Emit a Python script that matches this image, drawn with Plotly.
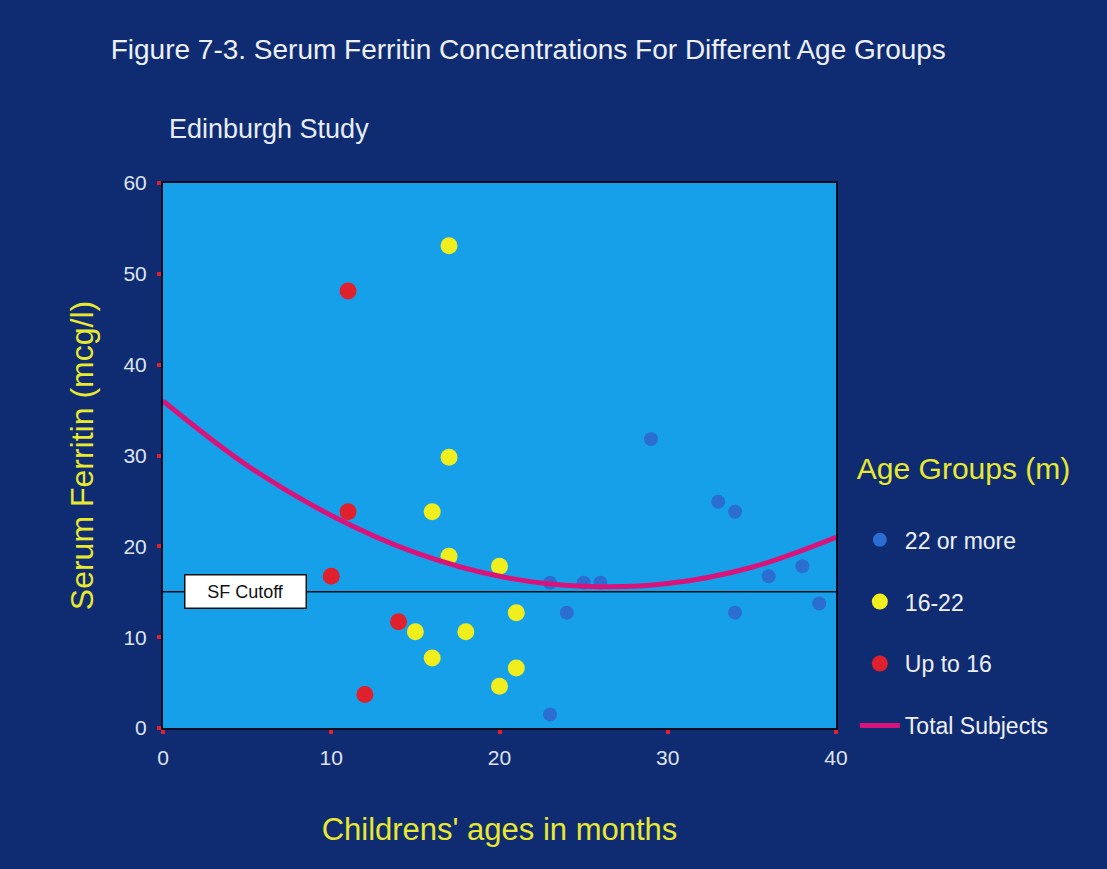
import plotly.graph_objects as go

# ---- data ----
older_x = [23, 23, 24, 25, 26, 29, 33, 34, 34, 36, 38, 39]
older_y = [1.5, 16, 12.7, 16, 16, 31.8, 24.9, 23.8, 12.7, 16.7, 17.8, 13.7]

mid_x = [15, 16, 16, 17, 17, 17, 18, 20, 20, 21, 21]
mid_y = [10.6, 7.7, 23.8, 53.1, 29.8, 18.9, 10.6, 17.8, 4.6, 12.7, 6.6]

young_x = [10, 11, 11, 12, 14]
young_y = [16.7, 48.1, 23.8, 3.7, 11.7]

curve_x = [0, 5, 10, 15, 20, 25, 30, 35, 40]
curve_y = [36.0, 28.9, 23.4, 19.3, 16.7, 15.6, 15.9, 17.7, 21.0]

cutoff_value = 15
x_ticks = [0, 10, 20, 30, 40]
y_ticks = [0, 10, 20, 30, 40, 50, 60]

BG = "#0f2c72"
PLOT_BG = "#17a0ea"
YELLOW = "#e8e830"
TICKTXT = "#dfe3f0"
FONT = "Liberation Sans, Arial, sans-serif"

fig = go.Figure()
fig.add_trace(go.Scatter(
    x=older_x, y=older_y, mode="markers", name="22 or more",
    legendgroup="a",
    marker=dict(size=14, color="#2c6dd2", line=dict(width=0)),
))
fig.add_trace(go.Scatter(
    x=mid_x, y=mid_y, mode="markers", name="16-22",
    legendgroup="b",
    marker=dict(size=17, color="#f0ee1c", line=dict(width=0)),
))
fig.add_trace(go.Scatter(
    x=young_x, y=young_y, mode="markers", name="Up to 16",
    legendgroup="c",
    marker=dict(size=17, color="#e0202c", line=dict(width=0)),
))
fig.add_trace(go.Scatter(
    x=curve_x, y=curve_y, mode="lines", name="Total Subjects",
    legendgroup="d",
    line=dict(color="#d8147a", width=5, shape="spline"),
))

fig.add_shape(type="line", xref="x", yref="y", x0=0, x1=40,
              y0=cutoff_value, y1=cutoff_value,
              line=dict(color="#111111", width=1.5), layer="below")

fig.add_annotation(x=4.9, y=cutoff_value, xref="x", yref="y",
                   text="SF Cutoff", showarrow=False,
                   font=dict(family=FONT, size=18, color="#111111"),
                   bgcolor="white", bordercolor="#111111", borderwidth=1.5,
                   borderpad=6, width=108)

fig.add_annotation(xref="paper", yref="paper", x=0, y=1,
                   xshift=4, yshift=37, xanchor="left", yanchor="bottom",
                   text="Edinburgh Study", showarrow=False,
                   font=dict(family=FONT, size=27, color="#e8ecf6"))

fig.update_layout(
    width=1107, height=869,
    paper_bgcolor=BG, plot_bgcolor=PLOT_BG,
    margin=dict(l=163, r=271, t=183, b=141),
    title=dict(text="Figure 7-3. Serum Ferritin Concentrations For Different Age Groups",
               x=0.1, xanchor="left", y=0.943, yanchor="middle",
               font=dict(family=FONT, size=28, color="#eef0f8")),
    font=dict(family=FONT, color=TICKTXT),
    xaxis=dict(range=[0, 40], tickvals=x_ticks, showgrid=False, zeroline=False,
               showline=True, linecolor="#0a0a20", linewidth=2, mirror=True,
               ticks="outside", ticklen=4, tickwidth=4, tickcolor="#e02030",
               ticklabelstandoff=6,
               tickfont=dict(size=21, color=TICKTXT),
               title=dict(text="Childrens' ages in months", standoff=50,
                          font=dict(size=31, color=YELLOW))),
    yaxis=dict(range=[0, 60], tickvals=y_ticks, showgrid=False, zeroline=False,
               showline=True, linecolor="#0a0a20", linewidth=2, mirror=True,
               ticks="outside", ticklen=4, tickwidth=4, tickcolor="#e02030",
               ticklabelstandoff=6,
               tickfont=dict(size=21, color=TICKTXT),
               title=dict(text="Serum Ferritin (mcg/l)", standoff=20,
                          font=dict(size=32, color=YELLOW))),
    legend=dict(x=1.028, xanchor="left", y=0.528, yanchor="top",
                xref="paper", yref="paper",
                bgcolor="rgba(0,0,0,0)",
                font=dict(size=23, color="#eef0f8"),
                title=dict(text="Age Groups (m)<br><span style='font-size:16px'> </span>",
                           side="top",
                           font=dict(size=30, color=YELLOW)),
                tracegroupgap=29, itemwidth=40),
    showlegend=True,
)

fig.write_html("out.html", config={"displayModeBar": False},
               post_script="document.body.style.margin='0';document.body.style.background='#0f2c72';")
